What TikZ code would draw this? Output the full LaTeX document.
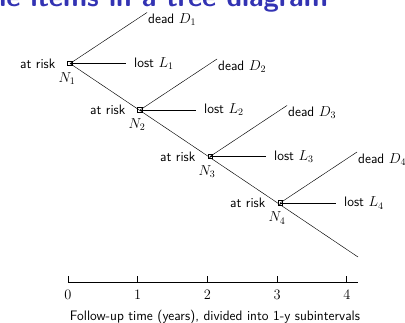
\documentclass[tikz,border=0pt]{standalone}
\usetikzlibrary{positioning}
\definecolor{titleblue}{RGB}{51,51,179}

\begin{document}
\begin{tikzpicture}[
        x=1pt, y=1pt,
        txt/.style={font=\fontsize{13.7}{16}\selectfont\sffamily, inner sep=1pt},
        state/.style={rectangle, draw, minimum size=4.5pt, inner sep=0pt, line width=0.5pt},
        branch/.style={line width=0.45pt},
        axis/.style={line width=0.8pt},
    ]
    \useasboundingbox (-68,-40) rectangle (337,282);

    % ===== Title (cut by the page edge) =====
    \node[anchor=base east, inner sep=0pt, text depth=0pt, text=titleblue,
          font=\fontsize{27.7}{32}\selectfont\sffamily\bfseries] (title) at (260,275) {le items in a tree diagram};

    % ===== States =====
    \node[state] (N1) at (2,218.5) {};
    \node[state] (N2) at (72,172) {};
    \node[state] (N3) at (142,125.5) {};
    \node[state] (N4) at (212,79) {};
    \coordinate (end) at (290,25);

    \draw[branch] (N1.center) -- (end);

    % ===== Interval 1 =====
    \coordinate (d1) at ([shift={(77,51)}]N1.center);
    \coordinate (l1) at ([shift={(56,0)}]N1.center);
    \draw[branch] (N1.center) -- (d1);
    \draw[branch] (N1.center) -- (l1);
    \node[txt, anchor=north west] (D1) at (d1) {dead $D_1$};
    \node[txt, right=7pt of l1] (L1) {lost $L_1$};
    \node[txt, left=11pt of N1] (R1) {at risk};
    \node[txt] (n1) at ([shift={(-3,-15)}]N1.center) {$N_1$};

    % ===== Interval 2 =====
    \coordinate (d2) at ([shift={(77,51)}]N2.center);
    \coordinate (l2) at ([shift={(56,0)}]N2.center);
    \draw[branch] (N2.center) -- (d2);
    \draw[branch] (N2.center) -- (l2);
    \node[txt, anchor=north west] (D2) at (d2) {dead $D_2$};
    \node[txt, right=7pt of l2] (L2) {lost $L_2$};
    \node[txt, left=11pt of N2] (R2) {at risk};
    \node[txt] (n2) at ([shift={(-3,-15)}]N2.center) {$N_2$};

    % ===== Interval 3 =====
    \coordinate (d3) at ([shift={(77,51)}]N3.center);
    \coordinate (l3) at ([shift={(56,0)}]N3.center);
    \draw[branch] (N3.center) -- (d3);
    \draw[branch] (N3.center) -- (l3);
    \node[txt, anchor=north west] (D3) at (d3) {dead $D_3$};
    \node[txt, right=7pt of l3] (L3) {lost $L_3$};
    \node[txt, left=11pt of N3] (R3) {at risk};
    \node[txt] (n3) at ([shift={(-3,-15)}]N3.center) {$N_3$};

    % ===== Interval 4 =====
    \coordinate (d4) at ([shift={(77,51)}]N4.center);
    \coordinate (l4) at ([shift={(56,0)}]N4.center);
    \draw[branch] (N4.center) -- (d4);
    \draw[branch] (N4.center) -- (l4);
    \node[txt, anchor=north west] (D4) at (d4) {dead $D_4$};
    \node[txt, right=7pt of l4] (L4) {lost $L_4$};
    \node[txt, left=11pt of N4] (R4) {at risk};
    \node[txt] (n4) at ([shift={(-3,-15)}]N4.center) {$N_4$};

    % ===== Time axis =====
    \coordinate (a0) at (0,0);
    \coordinate (a1) at (69.7,0);
    \coordinate (a2) at (139.4,0);
    \coordinate (a3) at (209.1,0);
    \coordinate (a4) at (278.8,0);
    \coordinate (aend) at (290,0);
    \draw[axis] (a0) -- (aend);
    \draw[axis] (a0) -- ++(0,6);
    \draw[axis] (a1) -- ++(0,6);
    \draw[axis] (a2) -- ++(0,6);
    \draw[axis] (a3) -- ++(0,6);
    \draw[axis] (a4) -- ++(0,6);
    \node[txt, below=7pt of a0] (y0) {$0$};
    \node[txt, below=7pt of a1] (y1) {$1$};
    \node[txt, below=7pt of a2] (y2) {$2$};
    \node[txt, below=7pt of a3] (y3) {$3$};
    \node[txt, below=7pt of a4] (y4) {$4$};

    \node[txt] (caption) at (147,-35) {Follow-up time (years), divided into 1-y subintervals};

\end{tikzpicture}
\end{document}
